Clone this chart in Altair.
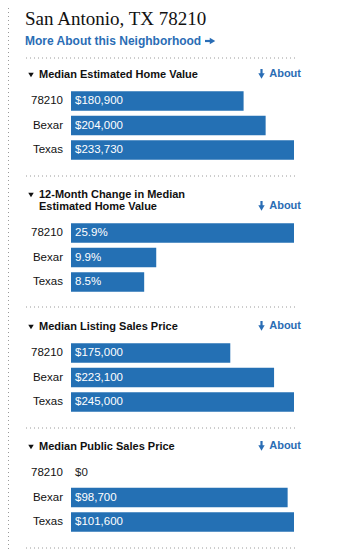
import altair as alt
import pandas as pd

# ---- data ----
areas = ["78210", "Bexar", "Texas"]
home_value = [180900, 204000, 233730]
home_value_labels = ["$180,900", "$204,000", "$233,730"]
change_12m = [25.9, 9.9, 8.5]
change_12m_labels = ["25.9%", "9.9%", "8.5%"]
listing_price = [175000, 223100, 245000]
listing_price_labels = ["$175,000", "$223,100", "$245,000"]
public_sales = [0, 98700, 101600]
public_sales_labels = ["$0", "$98,700", "$101,600"]

title_text = "San Antonio, TX 78210"
link_text = "More About this Neighborhood"
headers = [
    "Median Estimated Home Value",
    ["12-Month Change in Median", "Estimated Home Value"],
    "Median Listing Sales Price",
    "Median Public Sales Price",
]

BLUE = "#2470B4"
LINK = "#2A6DB5"
SANS = "Liberation Sans"

W, H = 330, 541
X0, X1 = 63, 286          # bar scale pixel range
STEP = 24.5

one = pd.DataFrame({"k": [0]})


def static_text(text, x, y, size=11, color="#111", weight="bold", font=SANS,
                align="left", baseline="middle", line_height=None):
    kw = dict(font=font, fontSize=size, color=color, fontWeight=weight,
              align=align, baseline=baseline)
    if line_height:
        kw["lineHeight"] = line_height
    return alt.Chart(one).mark_text(**kw).encode(
        x=alt.value(x), y=alt.value(y), text=alt.value(text))


def dotted_h(y):
    return alt.Chart(one).mark_rule(color="#9a9a9a", strokeWidth=1,
                                    strokeDash=[1, 3]).encode(
        x=alt.value(18), x2=alt.value(290), y=alt.value(y))


def down_arrow(x, y):
    stem = alt.Chart(one).mark_rule(color=LINK, strokeWidth=2.2).encode(
        x=alt.value(x), y=alt.value(y - 5), y2=alt.value(y + 1))
    head = alt.Chart(one).mark_point(shape="triangle-down", filled=True,
                                     color=LINK, opacity=1, size=40).encode(
        x=alt.value(x), y=alt.value(y + 2))
    return [stem, head]


def right_arrow(x, y):
    stem = alt.Chart(one).mark_rule(color=LINK, strokeWidth=2.2).encode(
        y=alt.value(y), x=alt.value(x), x2=alt.value(x + 7))
    head = alt.Chart(one).mark_point(shape="triangle-right", filled=True,
                                     color=LINK, opacity=1, size=40).encode(
        x=alt.value(x + 7.5), y=alt.value(y))
    return [stem, head]


def section(values, labels, first_center):
    df = pd.DataFrame({"area": areas, "value": values, "label": labels})
    y0 = first_center - STEP / 2
    y1 = first_center + 2 * STEP + STEP / 2
    yscale = alt.Scale(domain=areas, range=[y0, y1], paddingInner=0.2,
                       paddingOuter=0.1)
    xscale = alt.Scale(range=[X0, X1], zero=True, nice=False)
    base = alt.Chart(df)
    bars = base.mark_bar(color=BLUE).encode(
        x=alt.X("value:Q", scale=xscale, axis=None),
        y=alt.Y("area:N", scale=yscale, axis=None),
    )
    vals = base.mark_text(align="left", baseline="middle", font=SANS,
                          fontSize=11.5).encode(
        x=alt.value(67),
        y=alt.Y("area:N", scale=yscale, axis=None),
        text="label:N",
        color=alt.condition(alt.datum.value > 0, alt.value("white"),
                            alt.value("#222")),
    )
    names = base.mark_text(align="right", baseline="middle", font=SANS,
                           fontSize=11.5, color="#111").encode(
        x=alt.value(55),
        y=alt.Y("area:N", scale=yscale, axis=None),
        text="area:N",
    )
    return alt.layer(bars, vals, names)


def header(text, y, about_y):
    tri = alt.Chart(one).mark_point(shape="triangle-down", filled=True,
                                    color="#111", size=30, opacity=1).encode(
        x=alt.value(23), y=alt.value(y))
    t = static_text(text, 31, y, size=11, line_height=12)
    ab = static_text("About", 293, about_y, size=11, color=LINK,
                     align="right")
    return [tri, t, ab] + down_arrow(253.5, about_y)


layers = []
# left dotted vertical line
layers.append(alt.Chart(one).mark_rule(color="#9a9a9a", strokeWidth=1,
                                       strokeDash=[1, 3]).encode(
    x=alt.value(0.5), y=alt.value(0), y2=alt.value(H)))
layers.append(static_text(title_text, 17, 16.5, size=19, color="#111",
                          weight="normal", font="Liberation Serif",
                          baseline="alphabetic"))
layers.append(static_text(link_text, 17, 33, size=12, color=LINK))
layers += right_arrow(197, 33)
for y in [50, 168, 299, 420, 540]:
    layers.append(dotted_h(y))

layers += header(headers[0], 67, 66)
layers += header(headers[1], 187, 198)
layers += header(headers[2], 319, 318)
layers += header(headers[3], 439, 438)

layers.append(section(home_value, home_value_labels, 93))
layers.append(section(change_12m, change_12m_labels, 225))
layers.append(section(listing_price, listing_price_labels, 345))
layers.append(section(public_sales, public_sales_labels, 465))

chart = alt.layer(*layers).resolve_scale(
    x="independent", y="independent", color="independent"
).properties(
    width=W, height=H, padding=0,
    autosize=alt.AutoSizeParams(type="none"),
).configure_view(stroke=None)

chart.save("out.html", embed_options={"renderer": "svg", "actions": False})
